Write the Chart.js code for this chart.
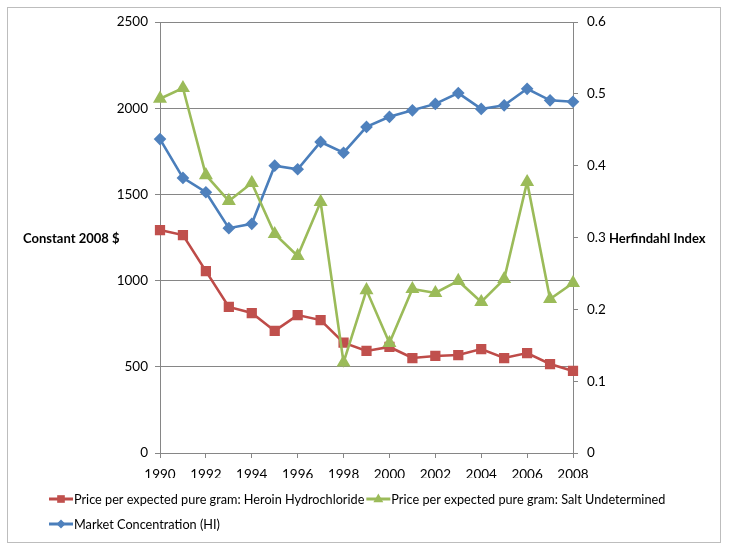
<!DOCTYPE html>
<html>
<head>
<meta charset="utf-8">
<script src="https://cdn.jsdelivr.net/npm/chart.js@4.4.0/dist/chart.umd.min.js"></script>
<style>
  html, body { margin: 0; padding: 0; background: #fff; }
  #wrap { width: 729px; height: 551px; position: relative; }
</style>
</head>
<body>
<div id="wrap"><canvas id="chart" width="729" height="551"></canvas></div>
<script>
const years = ['1990', '1991', '1992', '1993', '1994', '1995', '1996', '1997', '1998', '1999',
               '2000', '2001', '2002', '2003', '2004', '2005', '2006', '2007', '2008'];
const heroinHCl = [1293, 1264, 1055, 847, 812, 708, 800, 771, 640, 592,
                   615, 551, 563, 568, 603, 551, 580, 516, 476];
const saltUndetermined = [2055, 2117, 1612, 1462, 1566, 1270, 1143, 1456, 525, 945,
                          638, 951, 928, 998, 876, 1009, 1572, 893, 986];
const marketHI = [0.437, 0.383, 0.363, 0.313, 0.319, 0.400, 0.395, 0.433, 0.418, 0.454,
                  0.468, 0.477, 0.486, 0.501, 0.479, 0.484, 0.507, 0.491, 0.489];
const leftTicks = [0, 500, 1000, 1500, 2000, 2500];
const rightTicks = [0, 0.1, 0.2, 0.3, 0.4, 0.5, 0.6];

const FONT = 'Lato, "DejaVu Sans", sans-serif';
const gridGray = '#868686';

// small helper to draw the legend marker shapes
function marker(ctx, style, x, y, r, color) {
    ctx.fillStyle = color;
    ctx.beginPath();
    if (style === 'rect') {
        const s = r * Math.SQRT1_2;
        ctx.rect(x - s, y - s, 2 * s, 2 * s);
    } else if (style === 'triangle') {
        ctx.moveTo(x, y - r);
        ctx.lineTo(x + r * 0.9, y + r * 0.6);
        ctx.lineTo(x - r * 0.9, y + r * 0.6);
        ctx.closePath();
    } else {
        ctx.moveTo(x, y - r);
        ctx.lineTo(x + r, y);
        ctx.lineTo(x, y + r);
        ctx.lineTo(x - r, y);
        ctx.closePath();
    }
    ctx.fill();
}

const decorPlugin = {
    id: 'decor',
    beforeDraw(chart) {
        const ctx = chart.ctx;
        ctx.save();
        ctx.strokeStyle = '#bdbdbd';
        ctx.lineWidth = 1;
        ctx.strokeRect(7.5, 7.5, 713, 535);
        ctx.restore();
    },
    afterDraw(chart) {
        const ctx = chart.ctx;
        const area = chart.chartArea;
        const midY = (area.top + area.bottom) / 2 + 1;
        ctx.save();
        ctx.fillStyle = '#000';
        ctx.font = 'bold 13px ' + FONT;
        ctx.textBaseline = 'middle';
        ctx.textAlign = 'left';
        ctx.fillText('Constant 2008 $', 23, midY);
        ctx.fillText('Herfindahl Index', 609, midY);

        // legend
        ctx.font = '12.7px ' + FONT;
        let x = 49, y = 499;
        chart.data.datasets.forEach(ds => {
            const w = 24 + 1 + ctx.measureText(ds.label).width;
            if (x > 49 && x + w > 715) { x = 49; y += 25; }
            ctx.strokeStyle = ds.borderColor;
            ctx.lineWidth = 3;
            ctx.beginPath();
            ctx.moveTo(x, y);
            ctx.lineTo(x + 24, y);
            ctx.stroke();
            marker(ctx, ds.pointStyle, x + 12, y, ds.pointRadius, ds.pointBackgroundColor);
            ctx.fillStyle = '#000';
            ctx.fillText(ds.label, x + 25, y + 1);
            x += w + 2;
        });
        ctx.restore();
    }
};

new Chart(document.getElementById('chart'), {
    type: 'line',
    data: {
        labels: years,
        datasets: [
            {
                label: 'Price per expected pure gram: Heroin Hydrochloride',
                data: heroinHCl,
                yAxisID: 'y',
                borderColor: '#BE4B48',
                pointBackgroundColor: '#C0504D',
                pointBorderColor: '#C0504D',
                pointStyle: 'rect',
                pointRadius: 5.4,
                borderWidth: 2.6,
                order: 1
            },
            {
                label: 'Price per expected pure gram: Salt Undetermined',
                data: saltUndetermined,
                yAxisID: 'y',
                borderColor: '#9BBB59',
                pointBackgroundColor: '#9BBB59',
                pointBorderColor: '#9BBB59',
                pointStyle: 'triangle',
                pointRadius: 5.5,
                borderWidth: 2.6,
                order: 0
            },
            {
                label: 'Market Concentration (HI)',
                data: marketHI,
                yAxisID: 'y1',
                borderColor: '#4A7EBB',
                pointBackgroundColor: '#4F81BD',
                pointBorderColor: '#4F81BD',
                pointStyle: 'rectRot',
                pointRadius: 4.5,
                borderWidth: 2.6,
                order: 2
            }
        ]
    },
    options: {
        responsive: false,
        animation: false,
        devicePixelRatio: 1,
        layout: { padding: { left: 10, right: 10, top: 22, bottom: 73 } },
        plugins: {
            legend: { display: false },
            tooltip: { enabled: false }
        },
        elements: { line: { tension: 0 }, point: { borderWidth: 1 } },
        scales: {
            x: {
                type: 'category',
                offset: false,
                afterFit(scale) { scale.height = 25; },
                grid: {
                    drawOnChartArea: false,
                    tickLength: 5,
                    color: c => (c.index % 2 === 0 ? gridGray : 'rgba(0,0,0,0)')
                },
                border: { color: gridGray },
                ticks: {
                    autoSkip: false,
                    maxRotation: 0,
                    padding: 9,
                    color: '#000',
                    font: { family: FONT, size: 13.5 },
                    callback(v, i) { return i % 2 === 0 ? years[i] : ''; }
                }
            },
            y: {
                position: 'left',
                min: leftTicks[0],
                max: leftTicks[leftTicks.length - 1],
                afterFit(scale) { scale.width = 150; },
                afterBuildTicks(scale) { scale.ticks = leftTicks.map(v => ({ value: v })); },
                grid: { color: gridGray, tickLength: 5 },
                border: { color: gridGray },
                ticks: {
                    padding: 7,
                    color: '#000',
                    font: { family: FONT, size: 13.5 },
                    callback(v) { return String(v); }
                }
            },
            y1: {
                position: 'right',
                min: rightTicks[0],
                max: rightTicks[rightTicks.length - 1],
                afterFit(scale) { scale.width = 146; },
                afterBuildTicks(scale) { scale.ticks = rightTicks.map(v => ({ value: v })); },
                grid: { drawOnChartArea: false, color: gridGray, tickLength: 5 },
                border: { color: gridGray },
                ticks: {
                    padding: 9,
                    color: '#000',
                    font: { family: FONT, size: 13.5 },
                    callback(v) { return v === 0 ? '0' : v.toFixed(1); }
                }
            }
        }
    },
    plugins: [decorPlugin]
});
</script>
</body>
</html>
